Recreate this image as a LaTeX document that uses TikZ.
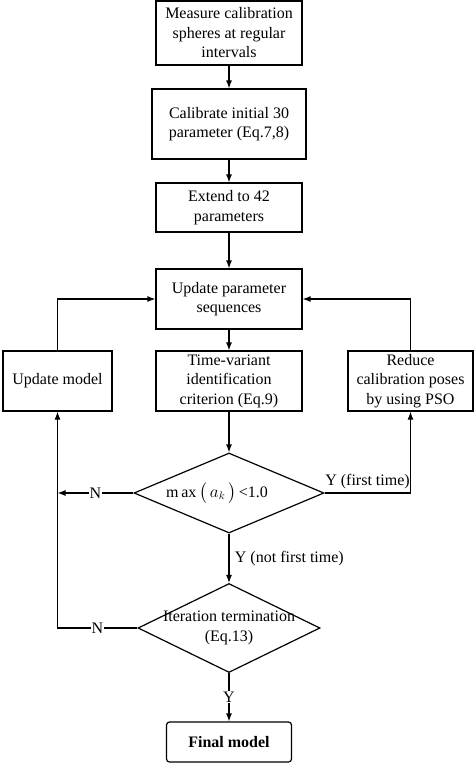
\documentclass[tikz,border=0pt]{standalone}
\usepackage{fontspec}
\usepackage{amsmath}
\setmainfont{Liberation Serif}
\usetikzlibrary{shapes,arrows.meta,positioning,calc}

\tikzset{
    box/.style={draw, rectangle, line width=1.2pt, align=center, inner sep=2pt},
    decision/.style={draw, diamond, line width=1.2pt, inner sep=0pt, aspect=2.4},
    flow/.style={->, line width=1.2pt},
}

\begin{document}
\begin{tikzpicture}[node distance=2cm, >={Latex[length=8pt,width=6pt]}, font=\fontsize{16}{19.5}\selectfont]
    \useasboundingbox (0,0) rectangle (474pt,-764pt);

    \node (measure) [box, minimum width=146pt, minimum height=64pt] at (229pt,-33pt) {Measure calibration\\spheres at regular\\intervals};
    \node (calib) [box, node distance=91pt, below of=measure, minimum width=154pt, minimum height=70pt] {Calibrate initial 30\\parameter (Eq.7,8)};
    \node (extend) [box, node distance=83.5pt, below of=calib, minimum width=146pt, minimum height=49pt] {Extend to 42\\parameters};
    \node (update) [box, node distance=91.5pt, below of=extend, minimum width=146pt, minimum height=60pt] {Update parameter\\sequences};
    \node (timevar) [box, node distance=82pt, below of=update, minimum width=146pt, minimum height=60pt] {Time-variant\\identification\\criterion (Eq.9)};
    \node (model) [box, node distance=171.5pt, left of=timevar, minimum width=109pt, minimum height=60pt] {Update model};
    \node (reduce) [box, node distance=181.5pt, right of=timevar, minimum width=125pt, minimum height=60pt] {Reduce\\calibration poses\\by using PSO};
    \node (maxcheck) [decision, node distance=112pt, below of=timevar, minimum width=190pt, minimum height=80pt] {};
    \node (maxtext) [xshift=-12pt] at (maxcheck) {m\,ax\,$\bigl(\,a_k\,\bigr)$\,<1.0};
    \node (iter) [decision, node distance=135pt, below of=maxcheck, minimum width=182pt, minimum height=89pt] {};
    \node (itertext) [align=center] at (iter) {Iteration termination\\(Eq.13)};
    \node (final) [box, rounded corners=3pt, node distance=114pt, below of=iter, minimum width=125pt, minimum height=40pt, font=\fontsize{16}{19.5}\selectfont\bfseries] {Final model};

    \coordinate (njoin) at (maxcheck.west -| model);

    \draw [flow] (measure) -- (calib);
    \draw [flow] (calib) -- (extend);
    \draw [flow] (extend) -- (update);
    \draw [flow] (update) -- (timevar);
    \draw [flow] (timevar) -- (maxcheck);
    \draw [flow] (maxcheck) -- node[right, xshift=2pt] {Y (not first time)} (iter);
    \draw [flow] (iter) -- node[fill=white, inner sep=1pt] {Y} (final);
    \draw [flow] (maxcheck.east) -| node[pos=0.25, above] {Y (first time)} (reduce);
    \draw [flow] (reduce.north) |- (update.east);
    \draw [flow] (model.north) |- (update.west);
    \draw [flow] (maxcheck.west) -- node[fill=white, inner sep=1pt] {N} (njoin);
    \draw [flow] (iter.west) -| node[pos=0.25, fill=white, inner sep=1pt] {N} (model);
\end{tikzpicture}
\end{document}
